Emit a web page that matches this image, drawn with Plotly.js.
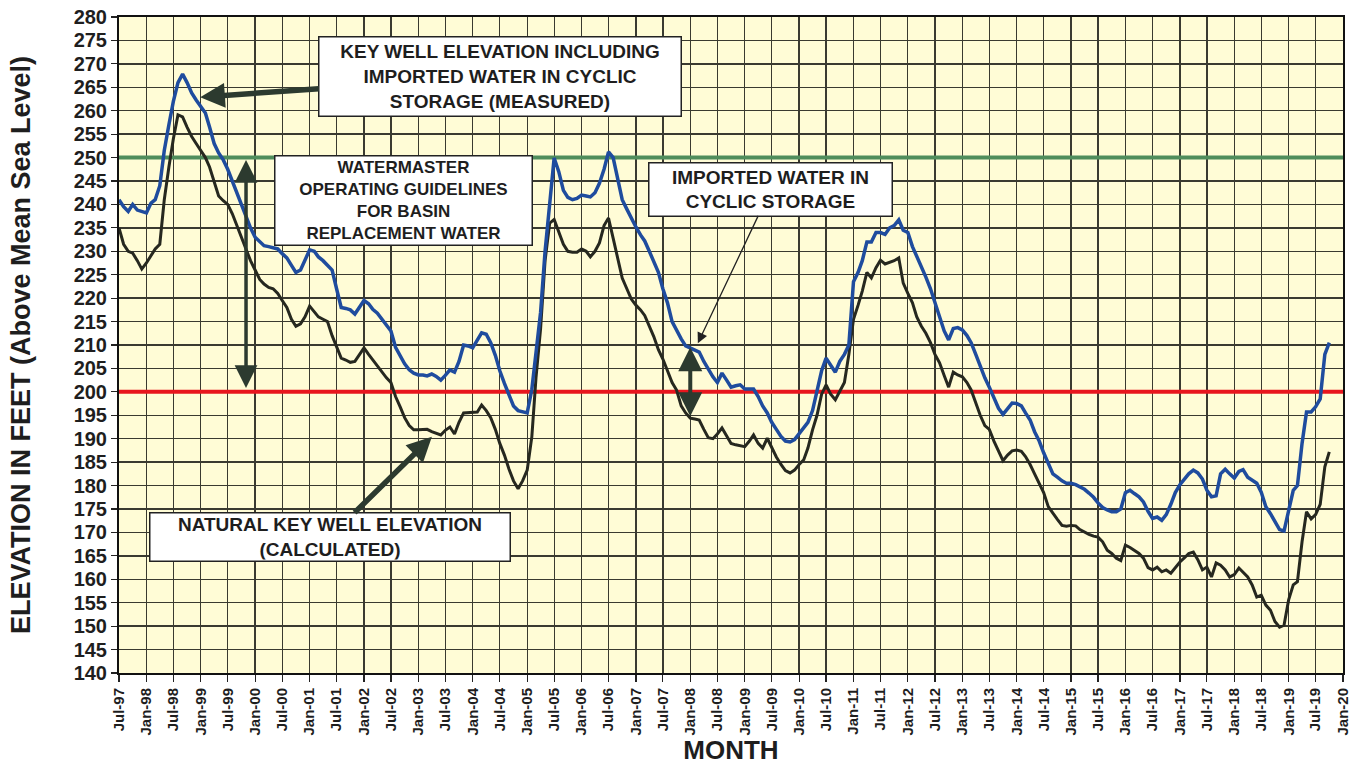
<!DOCTYPE html>
<html>
<head>
<meta charset="utf-8">
<script src="https://cdn.plot.ly/plotly-3.0.1.min.js"></script>
<style>
  html, body { margin: 0; padding: 0; background: #ffffff; }
  #chart { width: 1355px; height: 765px; }
</style>
</head>
<body>
<div id="chart"></div>
<script>
// ---- Data (monthly, Jul-1997 .. Oct-2019) ----
const START_YEAR = 1997;
const START_MONTH = 7;

// Key well elevation including imported water in cyclic storage (measured)
const measured = [
  241, 239.5, 238.5, 240, 238.8, 238.5,
  238.2, 240.3, 241, 244, 251.5, 257, 262, 266, 267.8, 266, 263.8, 262.3,
  261, 259.5, 256.5, 253, 251, 249.5, 247.5, 245, 242, 240, 237.5, 235,
  233, 232, 231.2, 231, 230.8, 230.5, 229.5, 228.6, 227, 225.5, 226, 228,
  230.3, 230, 228.8, 228, 227, 226, 222, 218, 217.8, 217.5, 216.6, 218,
  219.5, 218.8, 217.6, 216.8, 215.5, 214.3, 213, 209.5, 207.8, 206, 204.7, 204,
  203.6, 203.6, 203.4, 203.8, 203.3, 202.5, 203.5, 204.7, 204.2, 206.5, 210, 209.8,
  209.4, 211, 212.6, 212.3, 210.5, 207.8, 204.5, 201.8, 199.5, 197, 196, 195.7,
  195.5, 200.5, 208, 217, 230, 240, 249.9, 247, 243, 241.5, 241, 241.3,
  242, 241.8, 241.6, 242.5, 244.5, 247.5, 251.2, 250, 245.2, 241, 239, 237,
  235.2, 233.5, 232.2, 230, 227.8, 225.5, 222, 219, 215, 213, 211.3, 209.8,
  209.3, 209, 208.5, 206.5, 204.7, 203.2, 202, 204, 202.5, 201, 201.3, 201.5,
  200.6, 200.6, 200.6, 199, 197, 195.5, 193.5, 192, 190.5, 189.5, 189.3, 189.8,
  191, 192.3, 193.5, 196, 200.4, 204.5, 207.2, 205.8, 204.2, 206.5, 208, 210,
  223.5, 225.5, 228, 232, 232, 234, 234, 233.6, 235, 235.5, 236.7, 234.5,
  234, 231, 229, 227, 224.5, 222, 219, 216, 213, 211.1, 213.5, 213.7,
  213.2, 212, 210.5, 208, 205.5, 203, 201, 198.8, 196.5, 195.2, 196.5, 197.6,
  197.5, 197, 195.5, 194, 191.5, 189.5, 187, 184.5, 182.5, 181.8, 181, 180.5,
  180.5, 180.2, 179.8, 179.2, 178.4, 177.5, 176.3, 175.3, 174.8, 174.4, 174.4, 175,
  178.5, 179, 178.3, 177.6, 176.5, 174.5, 173, 173.3, 172.6, 173.8, 176, 178.5,
  180.2, 181.3, 182.5, 183.3, 182.7, 181.4, 179, 177.6, 177.8, 182.5, 183.5, 182.5,
  181.6, 183, 183.4, 181.8, 181.2, 180.5, 178.6, 175.5, 174, 172.3, 170.6, 170.3,
  174.5, 179, 180, 189, 195.7, 195.7, 196.8, 198.5, 208, 210.5
];

// Natural key well elevation (calculated)
const natural = [
  235, 231.5, 230, 229.6, 228, 226.2,
  227.5, 229, 230.5, 231.5, 241, 248, 254, 259.1, 258.7, 256.5, 254.5, 253,
  251.5, 250, 248, 245, 241.8, 240.8, 240, 238, 235.5, 233, 230.5, 228,
  226, 224, 223, 222.3, 222, 221, 219.5, 218, 215.5, 214, 214.5, 216,
  218.3, 217, 216, 215.5, 215, 212, 209.6, 207.2, 206.8, 206.3, 206.5, 208,
  209.4, 208, 206.8, 205.5, 204.3, 203, 202, 199, 196.8, 194.5, 192.8, 191.9,
  191.9, 191.9, 192, 191.5, 191.2, 190.8, 191.8, 192.5, 191, 193.5, 195.5, 195.6,
  195.7, 195.7, 197.2, 196, 194.5, 192, 189, 186.5, 183.5, 181, 179.3, 181,
  183.3, 190.4, 203, 213.5, 228, 236, 236.8, 234, 231.5, 230, 229.8, 229.8,
  230.5, 230, 228.8, 230, 231.8, 235.5, 237.1, 232.8, 228.5, 224.3, 222, 219.8,
  218.5, 217.5, 216.3, 214, 211.8, 209, 207, 204.5, 202, 200.4, 197, 195.5,
  194.4, 194.2, 194, 192, 190.2, 190, 191, 192.3, 190.5, 189, 188.7, 188.5,
  188.3, 189.5, 190.8, 189, 188, 190.1, 188, 186.1, 184.5, 183.2, 182.7, 183.3,
  184.5, 185.5, 188, 191.9, 195, 199.5, 201.5, 199.5, 198.3, 200, 202, 208,
  215.5, 218.5, 221.5, 225.5, 224.3, 226.5, 228.1, 227.3, 227.6, 228, 228.6, 223.2,
  221, 219, 216, 214, 212.5, 210.5, 208, 206.2, 203.5, 201, 204.2, 203.6,
  203.2, 202, 200.4, 197.5, 195, 192.8, 192, 189.5, 187.5, 185.3, 186.5, 187.4,
  187.6, 187.3, 186.2, 184.5, 182.5, 180.5, 178.5, 175.5, 174, 172.8, 171.5, 171.3,
  171.5, 171.4, 170.6, 170, 169.6, 169.2, 169, 168, 166.2, 165.5, 164.5, 164,
  167.3, 166.8, 166.2, 165.5, 164.5, 162.5, 162, 162.6, 161.6, 162, 161.3, 162.5,
  163.7, 164.6, 165.5, 165.8, 164.2, 162, 162.6, 160.5, 163.5, 163, 162, 160.5,
  161, 162.4, 161.5, 160.5, 158.8, 156.2, 156.6, 154.5, 153.4, 151, 149.8, 150.2,
  155.6, 158.8, 159.5, 168, 174.4, 172.9, 173.8, 176, 184, 187.2
];

// Guideline levels
const upperGuideline = 250;
const lowerGuideline = 200;

// X tick labels (every six months)
const tickLabels = [
  'Jul-97','Jan-98','Jul-98','Jan-99','Jul-99','Jan-00','Jul-00','Jan-01','Jul-01',
  'Jan-02','Jul-02','Jan-03','Jul-03','Jan-04','Jul-04','Jan-05','Jul-05','Jan-06',
  'Jul-06','Jan-07','Jul-07','Jan-08','Jul-08','Jan-09','Jul-09','Jan-10','Jul-10',
  'Jan-11','Jul-11','Jan-12','Jul-12','Jan-13','Jul-13','Jan-14','Jul-14','Jan-15',
  'Jul-15','Jan-16','Jul-16','Jan-17','Jul-17','Jan-18','Jul-18','Jan-19','Jul-19','Jan-20'
];
const tickDates = [
  '1997-07-01','1998-01-01','1998-07-01','1999-01-01','1999-07-01','2000-01-01','2000-07-01','2001-01-01','2001-07-01',
  '2002-01-01','2002-07-01','2003-01-01','2003-07-01','2004-01-01','2004-07-01','2005-01-01','2005-07-01','2006-01-01',
  '2006-07-01','2007-01-01','2007-07-01','2008-01-01','2008-07-01','2009-01-01','2009-07-01','2010-01-01','2010-07-01',
  '2011-01-01','2011-07-01','2012-01-01','2012-07-01','2013-01-01','2013-07-01','2014-01-01','2014-07-01','2015-01-01',
  '2015-07-01','2016-01-01','2016-07-01','2017-01-01','2017-07-01','2018-01-01','2018-07-01','2019-01-01','2019-07-01','2020-01-01'
];

// Text of the callouts
const calloutMeasured = ['KEY WELL ELEVATION INCLUDING', 'IMPORTED WATER IN CYCLIC', 'STORAGE (MEASURED)'];
const calloutGuidelines = ['WATERMASTER', 'OPERATING GUIDELINES', 'FOR BASIN', 'REPLACEMENT WATER'];
const calloutStorage = ['IMPORTED WATER IN', 'CYCLIC STORAGE'];
const calloutNatural = ['NATURAL KEY WELL ELEVATION', '(CALCULATED)'];

// ---- Build month categories ----
function monthDate(i) {
  const t = START_MONTH - 1 + i;
  const y = START_YEAR + Math.floor(t / 12);
  const m = (t % 12) + 1;
  return y + '-' + (m < 10 ? '0' + m : m) + '-01';
}
const months = measured.map((_, i) => monthDate(i));

const FONT = 'Arial, "Liberation Sans", sans-serif';
const ARROW = '#2c3a2f';
const TXT = '#1e1e1e';

const traces = [
  {
    x: [tickDates[0], tickDates[tickDates.length - 1]],
    y: [upperGuideline, upperGuideline],
    mode: 'lines', line: { color: '#4f8d5c', width: 4 }, hoverinfo: 'skip', showlegend: false
  },
  {
    x: [tickDates[0], tickDates[tickDates.length - 1]],
    y: [lowerGuideline, lowerGuideline],
    mode: 'lines', line: { color: '#e8161d', width: 4 }, hoverinfo: 'skip', showlegend: false
  },
  {
    x: months, y: natural, mode: 'lines', name: 'Natural',
    line: { color: '#26281f', width: 3 }, showlegend: false
  },
  {
    x: months, y: measured, mode: 'lines', name: 'Measured',
    line: { color: '#1f4c9e', width: 3.5 }, showlegend: false
  }
];

const boxFont = { family: FONT, size: 19, color: TXT, weight: 'bold' };

const annotations = [
  {
    x: '1998-12-28', y: 262.9, xref: 'x', yref: 'y',
    ax: 300, ay: -21,
    text: calloutMeasured.join('<br>'),
    font: boxFont, bgcolor: '#ffffff', bordercolor: '#222222', borderwidth: 1.5,
    width: 359, height: 76, borderpad: 1,
    showarrow: true, arrowhead: 2, arrowsize: 0.9, arrowwidth: 5.5, arrowcolor: ARROW, standoff: 0
  },
  {
    x: 0.2325, y: 0.721, xref: 'paper', yref: 'paper',
    xanchor: 'center', yanchor: 'middle',
    text: calloutGuidelines.join('<br>'),
    font: { family: FONT, size: 17, color: TXT, weight: 'bold' },
    bgcolor: '#ffffff', bordercolor: '#222222', borderwidth: 1.5,
    width: 254, height: 86, borderpad: 1, showarrow: false
  },
  {
    x: '2008-02-21', y: 210.4, xref: 'x', yref: 'y',
    ax: 73, ay: -154,
    text: calloutStorage.join('<br>'),
    font: boxFont, bgcolor: '#ffffff', bordercolor: '#222222', borderwidth: 1.5,
    width: 240, height: 50, borderpad: 1,
    showarrow: true, arrowhead: 2, arrowsize: 1.6, arrowwidth: 1.3, arrowcolor: '#222222', standoff: 0
  },
  {
    x: '2003-04-02', y: 190.4, xref: 'x', yref: 'y',
    ax: -102, ay: 100,
    text: calloutNatural.join('<br>'),
    font: boxFont, bgcolor: '#ffffff', bordercolor: '#222222', borderwidth: 1.5,
    width: 357, height: 45, borderpad: 1,
    showarrow: true, arrowhead: 2, arrowsize: 0.9, arrowwidth: 5.5, arrowcolor: ARROW, standoff: 0
  },
  // double arrow between guidelines
  {
    x: '1999-11-01', y: 249.5, xref: 'x', yref: 'y',
    ax: '1999-11-01', ay: 200.5, axref: 'x', ayref: 'y',
    text: '', showarrow: true, arrowside: 'end+start',
    arrowhead: 2, startarrowhead: 2, arrowsize: 1.3, startarrowsize: 1.3, arrowwidth: 3.5, arrowcolor: ARROW
  },
  // double arrow for imported water in storage
  {
    x: '2008-01-01', y: 209.5, xref: 'x', yref: 'y',
    ax: '2008-01-01', ay: 194.5, axref: 'x', ayref: 'y',
    text: '', showarrow: true, arrowside: 'end+start',
    arrowhead: 2, startarrowhead: 2, arrowsize: 1.2, startarrowsize: 1.2, arrowwidth: 4, arrowcolor: ARROW
  }
];

const layout = {
  width: 1355, height: 765,
  margin: { l: 119, r: 12, t: 17, b: 92 },
  paper_bgcolor: '#ffffff',
  plot_bgcolor: '#fffcd6',
  showlegend: false,
  font: { family: FONT, color: TXT },
  xaxis: {
    type: 'date',
    range: [tickDates[0], tickDates[tickDates.length - 1]],
    tickmode: 'array', tickvals: tickDates, ticktext: tickLabels,
    tickangle: -90,
    tickfont: { family: FONT, size: 15, color: TXT, weight: 'bold' },
    ticks: 'outside', ticklen: 7, tickcolor: '#222', tickwidth: 1.2,
    showgrid: true, gridcolor: '#3a3a30', gridwidth: 1.3,
    showline: true, linecolor: '#111', linewidth: 2, mirror: true,
    zeroline: false,
    title: { text: 'MONTH', font: { family: FONT, size: 26, color: TXT, weight: 'bold' }, standoff: 2 }
  },
  yaxis: {
    range: [140, 280], dtick: 5, tick0: 140,
    tickfont: { family: FONT, size: 20, color: TXT, weight: 'bold' },
    ticks: 'outside', ticklen: 6, tickcolor: '#222', tickwidth: 1.2,
    showgrid: true, gridcolor: '#3a3a30', gridwidth: 1.3,
    showline: true, linecolor: '#111', linewidth: 2, mirror: true,
    zeroline: false,
    title: { text: 'ELEVATION IN FEET (Above Mean Sea Level)', font: { family: FONT, size: 27, color: TXT, weight: 'bold' }, standoff: 35 }
  },
  annotations: annotations
};

Plotly.newPlot('chart', traces, layout, { displayModeBar: false, staticPlot: true });
</script>
</body>
</html>
